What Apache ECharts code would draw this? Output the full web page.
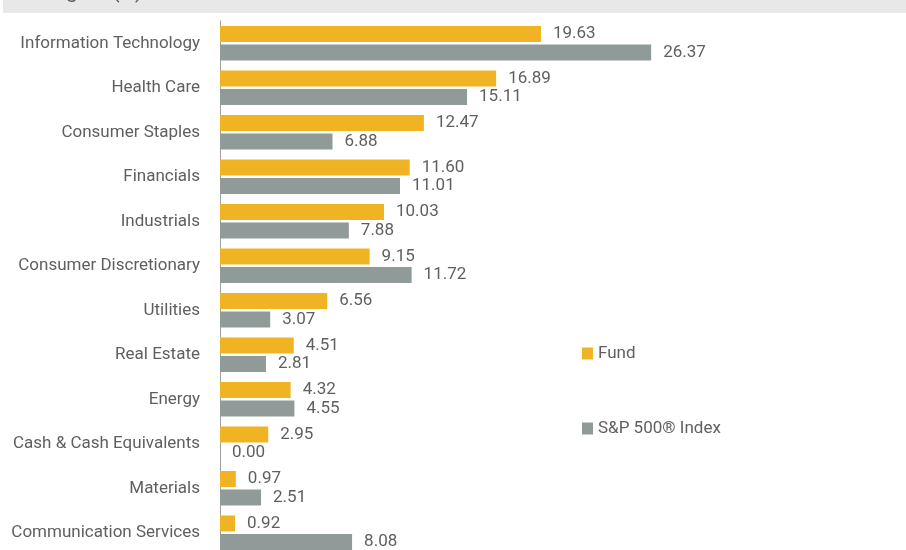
<!DOCTYPE html>
<html>
<head>
<meta charset="utf-8">
<script src="https://cdn.jsdelivr.net/npm/echarts@6/dist/echarts.min.js"></script>
<style>
  html, body { margin: 0; padding: 0; background: #fff; overflow: hidden; }
  /* taller than the window: the last band runs past the bottom edge */
  #chart { width: 906px; height: 560px; }
</style>
</head>
<body>
<div id="chart"></div>
<script>
// sectors, top to bottom
const sectors = ['Information Technology', 'Health Care', 'Consumer Staples', 'Financials',
  'Industrials', 'Consumer Discretionary', 'Utilities', 'Real Estate', 'Energy',
  'Cash & Cash Equivalents', 'Materials', 'Communication Services']
const fund = [19.63, 16.89, 12.47, 11.60, 10.03, 9.15, 6.56, 4.51, 4.32, 2.95, 0.97, 0.92]
const index = [26.37, 15.11, 6.88, 11.01, 7.88, 11.72, 3.07, 2.81, 4.55, 0.00, 2.51, 8.08]

const textColor = '#5f5f5f'
const font = 'Roboto'

const myChart = echarts.init(document.getElementById('chart'))

const valueLabel = {
  show: true,
  position: 'right',
  distance: 12,
  color: textColor,
  fontFamily: font,
  fontSize: 17,
  formatter: p => p.value.toFixed(2)
}

const option = {
  animation: false,
  graphic: [
    { type: 'rect', shape: { x: 3, y: 0, width: 903, height: 13 }, style: { fill: '#e8e8e8' }, z: -1 },
    // title sits mostly above the visible area, only descenders show
    { type: 'text', x: -34, y: -18, style: { text: 'Sector Weights (%)', fill: textColor, fontFamily: font, fontSize: 21 } }
  ],
  legend: {
    orient: 'vertical',
    left: 577,
    top: 340,
    itemWidth: 11,
    itemHeight: 12,
    itemGap: 58,
    icon: 'rect',
    textStyle: { color: textColor, fontFamily: font, fontSize: 17 },
    data: ['Fund', 'S&P 500® Index']
  },
  grid: { left: 220, top: 21, width: 654, height: 534 },
  xAxis: { type: 'value', min: 0, max: 40, show: false },
  yAxis: {
    type: 'category',
    inverse: true,
    data: sectors,
    axisLine: { lineStyle: { color: '#a0a0a0' } },
    axisTick: { length: 6, lineStyle: { color: '#a0a0a0' } },
    axisLabel: { margin: 20, color: textColor, fontFamily: font, fontSize: 17 }
  },
  series: [
    {
      name: 'Fund', type: 'bar', data: fund, barWidth: 16, barGap: '16%',
      itemStyle: { color: '#f0b323' }, label: valueLabel
    },
    {
      name: 'S&P 500® Index', type: 'bar', data: index, barWidth: 16,
      itemStyle: { color: '#8f9a99' }, label: valueLabel
    }
  ]
}
myChart.setOption(option)
</script>
</body>
</html>
